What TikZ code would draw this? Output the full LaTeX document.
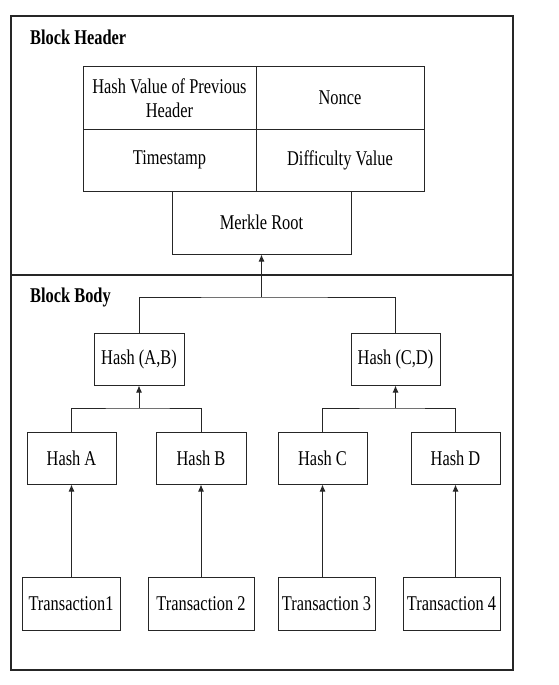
\documentclass[tikz,border=0pt]{standalone}
\usepackage{fontspec}
\setmainfont{Liberation Serif}[FakeStretch=0.78]
\usetikzlibrary{shapes,arrows,arrows.meta,positioning}
\tikzstyle{cell} = [draw=black!85, line width=1pt, rectangle, inner sep=0pt, align=center, font=\fontsize{21}{24}\selectfont]
\tikzstyle{hashbox} = [cell, minimum height=52pt]
\tikzstyle{txbox} = [cell, minimum height=53pt]
\tikzstyle{section} = [font=\fontsize{21}{24}\selectfont\bfseries, anchor=west, inner sep=0pt]
\tikzstyle{link} = [draw=black!85, line width=1pt]
\tikzstyle{uplink} = [link, -{Latex[length=7pt,width=6pt]}]
\begin{document}
\begin{tikzpicture}[x=1pt,y=-1pt]
\useasboundingbox (0,0) rectangle (558,685);
% frame
\draw[line width=1.2pt, black!85] (11,16) rectangle (513,670);
\draw[line width=1.2pt, black!85] (11,275) -- (513,275);
\node[section] (headtitle) at (30,37) {Block Header};
\node[section] (bodytitle) at (30,297) {Block Body};
% header fields
\node[cell, minimum width=173pt, minimum height=62pt] (prev) at (169.5,98) {Hash Value of Previous\\Header};
\node[cell, minimum width=168pt, minimum height=62pt] (nonce) at (340,98) {Nonce};
\node[cell, minimum width=173pt, minimum height=62pt] (time) at (169.5,160) {Timestamp};
\node[cell, minimum width=168pt, minimum height=62pt] (diff) at (340,160) {Difficulty Value};
\node[cell, minimum width=179pt, minimum height=63pt] (merkle) at (261.5,222.5) {Merkle Root};
% tree
\node[hashbox, minimum width=90pt] (hab) at (139,359) {Hash (A,B)};
\node[hashbox, minimum width=89pt] (hcd) at (395.5,359) {Hash (C,D)};
\node[hashbox, minimum width=89pt] (ha) at (71.5,458) {Hash A};
\node[hashbox, minimum width=90pt] (hb) at (201,458) {Hash B};
\node[hashbox, minimum width=89pt] (hc) at (322.5,458) {Hash C};
\node[hashbox, minimum width=89pt] (hd) at (455.5,458) {Hash D};
\node[txbox, minimum width=98pt] (tx1) at (71,603.5) {Transaction1};
\node[txbox, minimum width=106pt] (tx2) at (201,603.5) {Transaction 2};
\node[txbox, minimum width=97pt] (tx3) at (326.5,603.5) {Transaction 3};
\node[txbox, minimum width=97pt] (tx4) at (451.5,603.5) {Transaction 4};
\coordinate (rootjoin) at (261.5,297);
\coordinate (abjoin) at (139,408);
\coordinate (cdjoin) at (395.5,408);
\draw[link] (hab.north) |- (rootjoin) -| (hcd.north);
\draw[uplink] (rootjoin) -- (merkle.south);
\draw[link] (ha.north) |- (abjoin) -| (hb.north);
\draw[uplink] (abjoin) -- (hab.south);
\draw[link] (hc.north) |- (cdjoin) -| (hd.north);
\draw[uplink] (cdjoin) -- (hcd.south);
\draw[uplink] (tx1.north -| ha.south) -- (ha.south);
\draw[uplink] (tx2.north -| hb.south) -- (hb.south);
\draw[uplink] (tx3.north -| hc.south) -- (hc.south);
\draw[uplink] (tx4.north -| hd.south) -- (hd.south);
\end{tikzpicture}
\end{document}
